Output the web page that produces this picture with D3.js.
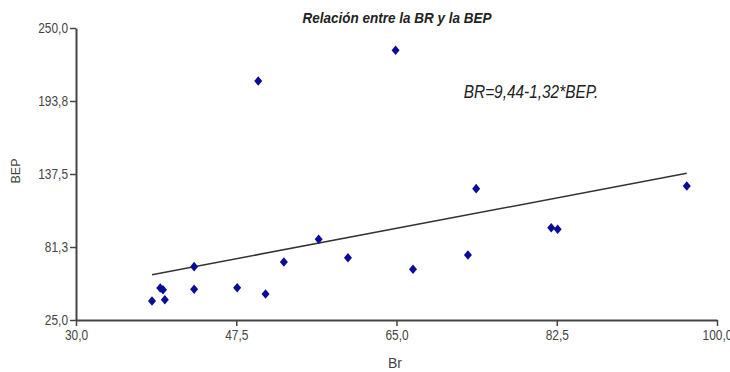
<!DOCTYPE html>
<html><head><meta charset="utf-8">
<script src="https://cdn.jsdelivr.net/npm/d3@7"></script>
<style>
html,body{margin:0;padding:0;background:#fff;}
svg{display:block;}
text{font-family:"Liberation Sans Narrow","Arial Narrow","Liberation Sans",Arial,sans-serif;}
</style></head>
<body>
<svg id="c" width="730" height="372"></svg>
<script>
const titleText = "Relación entre la BR y la BEP";
const equationText = "BR=9,44-1,32*BEP.";
const xLabel = "Br";
const yLabel = "BEP";
const xTicks = [30.0, 47.5, 65.0, 82.5, 100.0];
const yTicks = [25.0, 81.25, 137.5, 193.75, 250.0];
const brValues  = [38.3, 39.2, 39.5, 39.7, 42.9, 42.9, 47.6, 50.7, 52.7, 56.5, 59.7, 66.8, 72.8, 73.7, 81.9, 82.6, 96.7, 49.9, 64.9];
const bepValues = [39.6, 49.7, 48.3, 40.6, 66.1, 48.7, 49.9, 45.0, 69.7, 87.2, 73.0, 64.1, 75.1, 126.2, 96.1, 94.9, 128.3, 209.2, 232.8];
const fitBr  = [38.3, 96.7];
const fitBep = [59.9, 138.0];

const svg = d3.select("#c");
const x = d3.scaleLinear().domain([30, 100]).range([76, 717]);
const y = d3.scaleLinear().domain([25, 250]).range([320, 28]);
const fmt = v => d3.format(".1f")(v).replace(".", ",");

// compress text horizontally to mimic a narrow font
function narrow(sel, f) {
  sel.each(function() {
    const w = this.getComputedTextLength();
    d3.select(this).attr("textLength", w * f).attr("lengthAdjust", "spacingAndGlyphs");
  });
}

const axisColor = "#444";
const gx = svg.append("g").attr("transform", "translate(0,320)")
  .call(d3.axisBottom(x).tickValues(xTicks).tickFormat(fmt).tickSize(6).tickSizeOuter(0).tickPadding(4));
const gy = svg.append("g").attr("transform", "translate(76,0)")
  .call(d3.axisLeft(y).tickValues(yTicks).tickFormat(fmt).tickSize(6).tickSizeOuter(0).tickPadding(2));
[gx, gy].forEach(g => {
  g.select(".domain").attr("stroke", axisColor).attr("stroke-width", 2);
  g.selectAll(".tick line").attr("stroke", axisColor).attr("stroke-width", 1.5);
  g.selectAll(".tick text").attr("font-family", null).attr("fill", "#444").attr("font-size", 14);
  narrow(g.selectAll(".tick text"), 0.85);
});

// regression line
svg.append("line")
  .attr("x1", x(fitBr[0])).attr("y1", y(fitBep[0]))
  .attr("x2", x(fitBr[1])).attr("y2", y(fitBep[1]))
  .attr("stroke", "#333").attr("stroke-width", 1.5);

// points
const pts = brValues.map((b, i) => ({b, e: bepValues[i]}));
svg.append("g").selectAll("path").data(pts).enter().append("path")
  .attr("transform", d => `translate(${x(d.b)},${y(d.e)})`)
  .attr("d", "M0,-4.8L4,0L0,4.8L-4,0Z")
  .attr("fill", "#0b0b9a");

// title
const t = svg.append("text")
  .attr("x", 397).attr("y", 23).attr("text-anchor", "middle")
  .attr("font-size", 15.5).attr("font-style", "italic").attr("font-weight", "bold")
  .attr("fill", "#222").text(titleText);
narrow(t, 0.87);

// equation
const eq = svg.append("text")
  .attr("x", 531).attr("y", 98).attr("text-anchor", "middle")
  .attr("font-size", 19).attr("font-style", "italic")
  .attr("fill", "#222").text(equationText);
narrow(eq, 0.81);

// axis labels
svg.append("text")
  .attr("x", 395).attr("y", 368).attr("text-anchor", "middle")
  .attr("font-size", 14).attr("fill", "#444").text(xLabel);
svg.append("text")
  .attr("transform", "translate(20,171) rotate(-90)").attr("text-anchor", "middle")
  .attr("font-size", 12.5).attr("fill", "#444").text(yLabel);
</script>
</body></html>
